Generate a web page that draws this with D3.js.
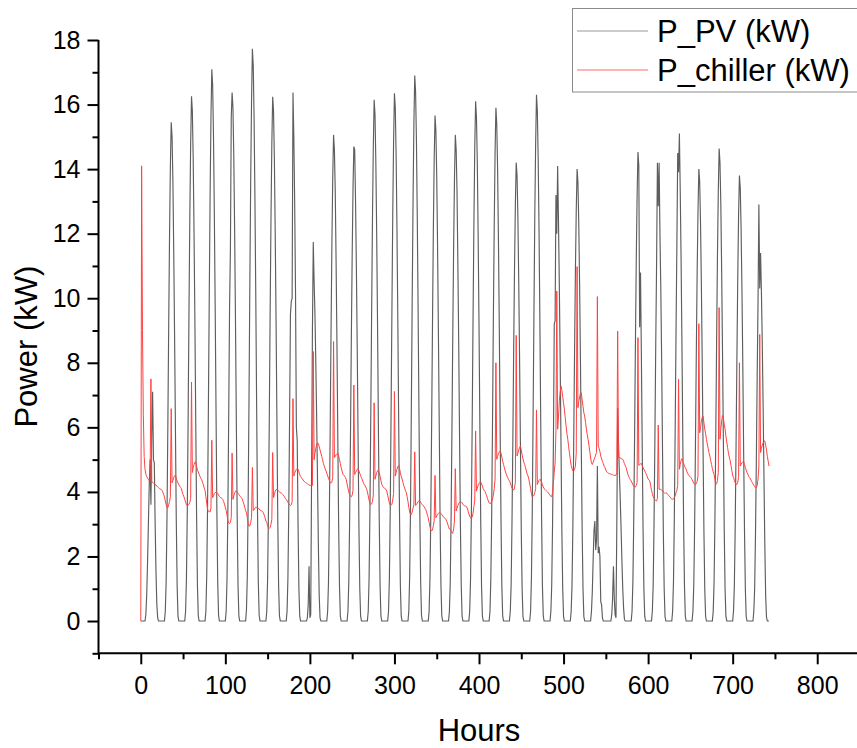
<!DOCTYPE html>
<html><head><meta charset="utf-8">
<script src="https://cdn.jsdelivr.net/npm/d3@7/dist/d3.min.js"></script>
<style>
body{margin:0;background:#fff}
svg{display:block}
text{font-family:"Liberation Sans",Arial,Helvetica,sans-serif;fill:#000}
</style></head>
<body><svg id="chart" width="857" height="748"></svg>
<script>
// ---------- data (hourly values, one row per day of 24 hours) ----------
const seriesNames = ["P_PV (kW)", "P_chiller (kW)"];
const xTickValues = [0, 100, 200, 300, 400, 500, 600, 700, 800];
const yTickValues = [0, 2, 4, 6, 8, 10, 12, 14, 16, 18];
const xAxisTitle = "Hours";
const yAxisTitle = "Power (kW)";

const pvByDay = [
 [0,0,0,0,0,0,0.2,0.8,1.8,3.0,4.2,5.0,3.6,5.8,7.1,5.0,4.9,3.0,1.5,0.5,0.1,0,0,0],
 [0,0,0,0,0,0.3,1.2,3.2,6.0,9.1,11.9,14.1,15.45,15.0,13.6,11.4,8.8,5.9,3.1,1.1,0.15,0,0,0],
 [0,0,0,0,0,0.3,1.3,3.4,6.3,9.6,12.5,14.8,16.26,15.8,14.3,12.0,9.3,6.2,3.3,1.1,0.16,0,0,0],
 [0,0,0,0,0,0.3,1.4,3.6,6.7,10.1,13.2,15.6,17.09,16.6,15.0,12.6,9.7,6.5,3.4,1.2,0.17,0,0,0],
 [0,0,0,0,0,0.3,1.3,3.4,6.4,9.7,11.5,15.6,16.37,15.9,14.4,12.1,9.3,6.2,3.3,1.1,0.16,0,0,0],
 [0,0,0,0,0,0.35,1.4,3.7,6.9,10.5,13.7,16.1,17.73,17.2,15.6,13.1,10.1,6.7,3.5,1.2,0.18,0,0,0],
 [0,0,0,0,0,0.3,1.3,3.4,6.3,9.6,12.5,14.8,16.24,15.8,14.3,12.0,9.3,6.2,3.2,1.1,0.16,0,0,0],
 [0,0,0,0,0,0.3,1.3,3.4,6.3,9.5,9.9,10.0,16.37,15.0,13.0,10.2,6.0,5.6,3.0,1.0,0.15,0,0,0],
 [0,0,0,0,0,0.1,0.5,1.7,0.1,0.2,4.5,9.0,11.74,10.5,9.5,8.0,6.3,4.4,2.4,0.8,0.1,0,0,0],
 [0,0,0,0,0,0.3,1.2,3.2,5.9,8.9,11.6,13.7,15.06,14.6,13.3,11.1,8.6,5.7,3.0,1.1,0.15,0,0,0],
 [0,0,0,0,0,0.3,1.2,3.1,5.7,8.7,11.3,13.4,14.7,14.6,13.0,10.9,8.4,5.6,2.9,1.0,0.15,0,0,0],
 [0,0,0,0,0,0.3,1.3,3.4,6.3,9.5,12.4,14.7,16.15,15.7,14.2,12.0,9.2,6.1,3.2,1.1,0.16,0,0,0],
 [0,0,0,0,0,0.3,1.3,3.4,6.4,9.6,12.6,14.9,16.35,15.9,14.4,12.1,9.3,6.2,3.3,1.1,0.16,0,0,0],
 [0,0,0,0,0,0.3,1.4,3.5,6.6,10.0,13.0,15.4,16.9,16.4,14.9,12.5,9.6,6.4,3.4,1.2,0.17,0,0,0],
 [0,0,0,0,0,0.3,1.3,3.3,6.1,9.2,12.1,14.3,15.66,15.2,13.8,11.6,8.9,6.0,3.1,1.1,0.16,0,0,0],
 [0,0,0,0,0,0.3,1.2,3.2,5.9,8.9,11.6,13.7,15.06,14.6,13.3,11.1,8.6,5.7,3.0,1.1,0.15,0,0,0],
 [0,0,0,0,0,0.3,1.3,3.4,6.3,9.5,12.4,14.7,16.1,15.6,14.2,11.9,9.2,6.1,3.2,1.1,0.16,0,0,0],
 [0,0,0,0,0,0.3,1.3,3.3,6.2,9.4,12.2,14.5,15.9,15.4,14.0,11.8,9.1,6.0,3.2,1.1,0.16,0,0,0],
 [0,0,0,0,0,0.3,1.1,3.0,5.5,8.4,10.9,12.9,14.2,13.8,12.5,10.5,8.1,5.4,2.8,1.0,0.14,0,0,0],
 [0,0,0,0,0,0.3,1.3,3.4,6.4,9.6,12.6,14.8,16.3,15.8,14.3,12.1,9.3,6.2,3.3,1.1,0.16,0,0,0],
 [0,0,0,0,0,0.3,1.1,3.0,5.5,9.2,9.3,13.2,12.0,14.1,12.4,10.4,8.0,5.4,2.8,1.0,0.14,0,0,0],
 [0,0,0,0,0,0.3,1.1,2.9,5.5,8.3,10.8,12.7,14.0,13.6,12.3,10.4,8.0,5.3,2.8,1.0,0.14,0,0,0],
 [0,0,0,0,0,0.3,0.9,1.9,2.8,3.1,2.2,2.5,4.8,2.1,2.3,2.0,0.6,0.5,0.1,0,0,0,0,0],
 [0,0,0,0,0,0.2,0.7,1.7,0.7,0.2,0.1,3.0,6.6,5.5,4.6,3.8,2.9,1.9,1.0,0.4,0.05,0,0,0],
 [0,0,0,0,0,0.3,1.2,3.1,5.7,8.6,11.2,13.2,14.53,14.1,9.1,10.8,8.3,5.5,2.9,1.0,0.15,0,0,0],
 [0,0,0,0,0,0.3,1.1,3.0,5.6,8.5,11.0,14.2,12.85,14.2,12.0,10.3,8.1,5.4,2.8,1.0,0.14,0,0,0],
 [0,0,0,0,0,0.3,1.2,3.2,5.9,8.9,11.6,14.5,13.9,15.1,13.3,11.2,8.6,5.7,3.0,1.1,0.15,0,0,0],
 [0,0,0,0,0,0.3,1.1,2.9,5.5,8.3,10.8,12.7,14.0,13.6,12.3,10.4,8.0,5.3,2.8,1.0,0.14,0,0,0],
 [0,0,0,0,0,0.3,1.2,3.1,5.7,8.6,11.3,13.3,14.64,14.2,12.9,10.8,8.3,5.6,2.9,1.0,0.15,0,0,0],
 [0,0,0,0,0,0.3,1.1,2.9,5.4,8.1,10.6,12.6,13.8,13.4,12.1,10.2,7.9,5.2,2.8,1.0,0.14,0,0,0],
 [0,0,0,0,0,0.3,1.0,2.7,5.0,7.6,9.9,12.9,10.3,11.4,10.2,8.6,6.7,4.5,2.4,0.8,0.12,0,0,0]
];

const chillerByDay = [
 [0,14.1,9.0,6.4,5.1,4.7,4.55,4.48,4.42,4.39,4.35,4.32,7.5,4.29,4.3,4.28,4.25,4.23,4.21,4.18,4.15,4.13,4.11,4.09],
 [4.08,4.05,4.0,3.93,3.84,3.72,3.6,3.52,3.51,3.6,3.7,3.85,6.58,4.28,4.35,4.45,4.5,4.51,4.42,4.34,4.28,4.22,4.18,4.14],
 [4.1,4.0,3.92,3.85,3.77,3.68,3.6,3.57,3.58,3.62,3.67,3.8,7.4,4.6,4.75,4.85,4.92,4.93,4.8,4.68,4.62,4.55,4.48,4.42],
 [4.38,4.3,4.22,4.12,4.05,3.85,3.65,3.45,3.41,3.38,3.38,3.5,5.6,3.82,3.88,3.95,3.98,3.98,3.98,3.95,3.9,3.86,3.83,3.82],
 [3.8,3.76,3.7,3.62,3.52,3.42,3.28,3.12,3.03,3.02,3.06,3.2,5.2,3.77,3.88,3.96,4.02,4.03,4.0,3.96,3.92,3.88,3.85,3.82],
 [3.78,3.7,3.62,3.52,3.42,3.35,3.2,3.02,2.94,2.95,3.05,3.2,4.76,3.42,3.45,3.5,3.52,3.52,3.51,3.5,3.47,3.44,3.42,3.41],
 [3.4,3.35,3.28,3.2,3.1,3.05,2.95,2.87,2.87,2.9,3.0,3.15,5.22,3.82,3.92,4.02,4.07,4.08,4.05,4.02,4.0,3.98,3.97,3.95],
 [3.92,3.88,3.85,3.8,3.77,3.72,3.68,3.64,3.6,3.58,3.6,3.7,6.89,4.49,4.58,4.65,4.7,4.7,4.7,4.62,4.53,4.48,4.44,4.4],
 [4.37,4.33,4.31,4.29,4.27,4.25,4.23,4.22,4.2,4.2,4.19,4.2,8.35,5.0,5.2,5.35,5.45,5.52,5.5,5.4,5.3,5.2,5.1,5.0],
 [4.88,4.8,4.72,4.66,4.58,4.5,4.42,4.36,4.29,4.27,4.3,4.45,8.66,5.06,5.1,5.15,5.18,5.2,5.12,5.0,4.88,4.76,4.65,4.55],
 [4.52,4.49,4.45,4.38,4.25,4.12,4.0,3.9,3.87,3.85,3.9,4.05,7.31,4.54,4.6,4.65,4.7,4.72,4.65,4.58,4.5,4.44,4.38,4.3],
 [4.24,4.2,4.15,4.1,4.0,3.88,3.75,3.64,3.61,3.63,3.7,3.9,6.76,4.39,4.5,4.6,4.66,4.68,4.6,4.48,4.35,4.24,4.18,4.14],
 [4.12,4.1,4.08,4.02,3.9,3.78,3.66,3.59,3.58,3.62,3.75,3.95,7.11,4.49,4.6,4.7,4.78,4.82,4.72,4.6,4.48,4.4,4.3,4.2],
 [4.12,4.05,3.98,3.85,3.7,3.52,3.38,3.3,3.3,3.38,3.5,3.6,5.24,3.58,3.61,3.65,3.7,3.72,3.72,3.68,3.63,3.6,3.57,3.55],
 [3.5,3.45,3.38,3.28,3.2,3.05,2.92,2.82,2.79,2.82,2.95,3.1,4.51,3.2,3.25,3.3,3.34,3.36,3.36,3.33,3.3,3.26,3.22,3.2],
 [3.18,3.14,3.08,3.0,2.92,2.85,2.84,2.78,2.73,2.72,2.85,3.1,4.72,3.41,3.5,3.58,3.64,3.68,3.69,3.69,3.66,3.62,3.59,3.56],
 [3.56,3.55,3.5,3.42,3.32,3.25,3.2,3.2,3.22,3.35,3.55,3.75,5.89,4.03,4.12,4.2,4.26,4.3,4.31,4.25,4.18,4.1,4.05,4.02],
 [3.95,3.88,3.8,3.72,3.66,3.64,3.65,3.7,3.78,3.9,4.1,4.4,8.0,5.01,5.1,5.18,5.24,5.27,5.2,5.08,4.95,4.85,4.75,4.65],
 [4.57,4.5,4.44,4.38,4.34,4.28,4.2,4.12,4.08,4.06,4.12,4.3,8.85,5.11,5.2,5.3,5.38,5.42,5.3,5.15,5.02,4.92,4.85,4.75],
 [4.65,4.55,4.49,4.38,4.25,4.1,3.95,3.85,3.86,3.9,3.98,4.1,6.54,4.23,4.3,4.36,4.39,4.37,4.3,4.22,4.15,4.1,4.08,4.05],
 [4.02,4.0,3.97,3.93,3.9,3.86,3.85,3.98,4.3,4.6,4.9,5.9,10.22,5.94,6.3,6.8,7.1,7.28,7.15,6.95,6.75,6.56,6.3,6.05],
 [5.8,5.63,5.4,5.2,5.0,4.82,4.72,4.65,4.65,4.7,4.8,5.2,10.98,6.61,6.8,6.95,7.05,7.07,6.85,6.65,6.45,6.35,6.15,5.95],
 [5.78,5.63,5.45,5.25,5.05,4.9,4.85,4.92,5.0,5.06,5.15,5.22,10.05,5.42,5.35,5.25,5.11,5.02,4.95,4.88,4.8,4.75,4.68,4.62],
 [4.6,4.58,4.57,4.56,4.55,4.54,4.53,4.52,4.51,4.51,4.52,4.6,8.98,5.06,5.06,5.05,5.04,5.02,5.01,4.95,4.88,4.82,4.75,4.65],
 [4.55,4.48,4.42,4.38,4.34,4.28,4.22,4.18,4.15,4.15,4.2,4.3,8.78,4.82,4.85,4.87,4.88,4.82,4.76,4.7,4.65,4.6,4.54,4.47],
 [4.4,4.37,4.34,4.2,4.05,3.95,3.85,3.8,3.76,3.73,3.72,3.8,6.07,4.08,4.08,4.08,4.06,4.03,4.0,3.98,3.95,3.98,3.96,3.93],
 [3.9,3.87,3.84,3.8,3.78,3.77,3.78,3.82,3.88,3.98,4.05,4.2,7.49,4.7,4.85,4.98,5.03,4.95,4.88,4.8,4.75,4.7,4.62,4.56],
 [4.52,4.49,4.46,4.44,4.38,4.32,4.27,4.23,4.22,4.26,4.32,4.5,9.21,5.83,6.0,6.2,6.3,6.35,6.15,5.95,5.8,5.63,5.48,5.35],
 [5.22,5.11,4.98,4.85,4.72,4.62,4.54,4.38,4.23,4.25,4.35,4.6,9.71,5.63,5.95,6.2,6.37,6.3,6.1,5.95,5.73,5.55,5.38,5.2],
 [5.08,4.98,4.82,4.66,4.52,4.45,4.36,4.28,4.24,4.23,4.3,4.45,8.0,4.8,4.85,4.9,4.93,4.93,4.85,4.75,4.68,4.6,4.55,4.48],
 [4.45,4.4,4.35,4.3,4.25,4.2,4.16,4.13,4.13,4.2,4.4,4.8,8.88,5.22,5.35,5.45,5.52,5.56,5.58,5.45,5.3,5.1,4.95,4.8]
];

const pv = pvByDay.flat();
const chiller = chillerByDay.flat();

// ---------- drawing ----------
const svg = d3.select("#chart");
const x = d3.scaleLinear().domain([-50, 850]).range([98.5, 859.5]);
const y = d3.scaleLinear().domain([-1, 18]).range([653.3, 40]);

const plot = svg.append("g");
const line = d3.line().x((d, i) => x(i)).y(d => y(d));

plot.append("path").datum(pv)
  .attr("fill", "none").attr("stroke", "#5e5e5e").attr("stroke-width", 1.15)
  .attr("stroke-linejoin", "miter").attr("d", line);
plot.append("path").datum(chiller)
  .attr("fill", "none").attr("stroke", "#ff4242").attr("stroke-width", 1)
  .attr("d", line);

// axes
const fontTick = 25;
const xMinor = d3.range(-50, 851, 100);
const yMinor = d3.range(-1, 18, 2);

const gx = svg.append("g").attr("transform", `translate(0,${y(-1)})`);
gx.call(d3.axisBottom(x).tickValues(xTickValues).tickSize(11).tickPadding(12).tickFormat(d3.format("d")));
gx.call(g => g.append("g").call(d3.axisBottom(x).tickValues(xMinor).tickSize(6).tickFormat("")).select(".domain").remove());
gx.select(".domain").attr("d", `M${x(-50)},0H857`);

const gy = svg.append("g").attr("transform", `translate(${x(-50)},0)`);
gy.call(d3.axisLeft(y).tickValues(yTickValues).tickSize(11).tickPadding(7).tickFormat(d3.format("d")));
gy.call(g => g.append("g").call(d3.axisLeft(y).tickValues(yMinor).tickSize(6).tickFormat("")).select(".domain").remove());
gy.select(".domain").attr("d", `M0,${y(18)}V${y(-1) + 1}`);

svg.selectAll(".domain, .tick line").attr("stroke", "#000").attr("stroke-width", 2);
svg.selectAll(".tick text").attr("font-size", fontTick).attr("font-family", '"Liberation Sans", Arial, sans-serif').attr("fill", "#000");

// axis titles
svg.append("text").attr("x", x(400)).attr("y", 741).attr("text-anchor", "middle")
  .attr("font-size", 31).text(xAxisTitle);
svg.append("text").attr("transform", `translate(37,${y(8.5)}) rotate(-90)`).attr("text-anchor", "middle")
  .attr("font-size", 31).text(yAxisTitle);

// legend
const legend = svg.append("g");
legend.append("rect").attr("x", 572.5).attr("y", 8.5).attr("width", 300).attr("height", 83.5)
  .attr("fill", "#fff").attr("stroke", "#8a8a8a").attr("stroke-width", 1);
const legendColors = ["#9a9a9a", "#ff6a6a"];
seriesNames.forEach((name, i) => {
  const ly = 31 + i * 39;
  legend.append("line").attr("x1", 577).attr("x2", 648).attr("y1", ly).attr("y2", ly)
    .attr("stroke", legendColors[i]).attr("stroke-width", 1.2);
  legend.append("text").attr("x", 657).attr("y", ly + 11).attr("font-size", 31).text(name);
});
</script>
</body></html>
